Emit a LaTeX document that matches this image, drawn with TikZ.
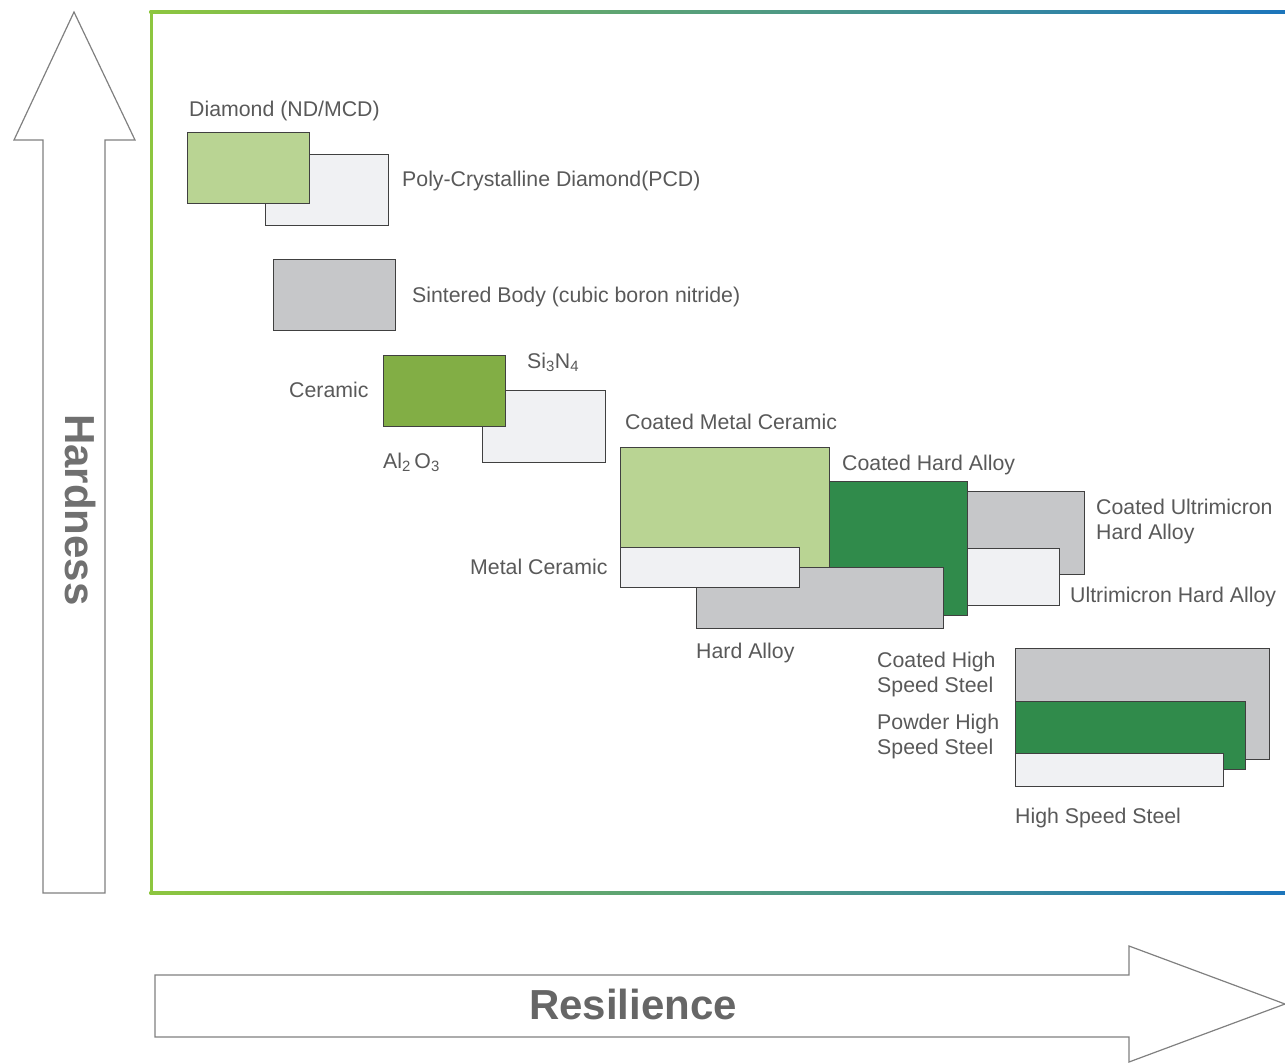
\documentclass[tikz,border=0pt]{standalone}
\usepackage{fontspec}
\setmainfont{Liberation Sans}
\usetikzlibrary{positioning}
\definecolor{labelgray}{HTML}{595959}
\definecolor{arrowgray}{HTML}{808080}
\definecolor{boxline}{HTML}{404040}
\definecolor{lightgreen}{HTML}{B9D493}
\definecolor{olivegreen}{HTML}{82AE45}
\definecolor{darkgreen}{HTML}{308B4B}
\definecolor{pale}{HTML}{F0F1F3}
\definecolor{midgray}{HTML}{C6C7C9}
\definecolor{framegreen}{HTML}{8DC63F}
\definecolor{frameblue}{HTML}{1C75BC}
\tikzset{
  mat/.style={draw=boxline, line width=1pt, anchor=north west, inner sep=0pt},
  lbl/.style={text=labelgray, font=\fontsize{21.3}{25}\selectfont, anchor=base west, inner sep=0pt, align=left},
  axis label/.style={text=#1, font=\fontsize{42}{48}\selectfont\bfseries, inner sep=0pt},
}
\begin{document}
\begin{tikzpicture}[x=1pt, y=-1pt, line join=miter]
\useasboundingbox (0,0) rectangle (1285,1063);
% frame
\fill[framegreen] (149.5,10.5) rectangle (152.5,894.5);
\shade[left color=framegreen, right color=frameblue] (149.5,10.5) rectangle (1290,13.5);
\shade[left color=framegreen, right color=frameblue] (149.5,891.5) rectangle (1290,894.5);
% axes arrows
\draw[arrowgray, line width=1.2pt] (74,12) -- (135,140) -- (105,140) -- (105,893) -- (43,893) -- (43,140) -- (14,140) -- cycle;
\node[axis label=black!56, rotate=-90] (hard) at (81,510) {Hardness};
\draw[arrowgray, line width=1.2pt] (155,975) -- (1129,975) -- (1129,946) -- (1285,1004) -- (1129,1062) -- (1129,1037) -- (155,1037) -- cycle;
\node[axis label=black!60] (resil) at (633,1004) {Resilience};
% diamond
\node[mat, fill=pale, minimum width=123, minimum height=71] (pcd) at (265,154) {};
\node[mat, fill=lightgreen, minimum width=122, minimum height=71] (dmd) at (187,132) {};
\node[lbl] (dmdl) at (189,116) {Diamond (ND/MCD)};
\node[lbl] (pcdl) at (402,186) {Poly-Crystalline Diamond(PCD)};
% cbn
\node[mat, fill=midgray, minimum width=122, minimum height=71] (cbn) at (273,259) {};
\node[lbl] (cbnl) at (412,302) {Sintered Body (cubic boron nitride)};
% ceramic
\node[mat, fill=pale, minimum width=123, minimum height=72] (sin) at (482,390) {};
\node[mat, fill=olivegreen, minimum width=122, minimum height=71] (alo) at (383,355) {};
\node[lbl] (cerl) at (289,397) {Ceramic};
\node[lbl] (sinl) at (527,368) {Si\textsubscript{3}N\textsubscript{4}};
\node[lbl] (alol) at (383,468) {Al\textsubscript{2}\,O\textsubscript{3}};
% hard alloys
\node[mat, fill=lightgreen, minimum width=209, minimum height=120] (cmc) at (620,447) {};
\node[mat, fill=darkgreen, minimum width=138, minimum height=134] (cha) at (829,481) {};
\node[mat, fill=midgray, minimum width=117, minimum height=83] (cuh) at (967,491) {};
\node[mat, fill=pale, minimum width=92, minimum height=57] (uha) at (967,548) {};
\node[mat, fill=midgray, minimum width=247, minimum height=61] (hal) at (696,567) {};
\node[mat, fill=pale, minimum width=179, minimum height=40] (mcr) at (620,547) {};
\node[lbl] (cmcl) at (625,429) {Coated Metal Ceramic};
\node[lbl] (chal) at (842,470) {Coated Hard Alloy};
\node[lbl] (cuhl) at (1096,539) {Coated Ultrimicron\\Hard Alloy};
\node[lbl] (uhal) at (1070,602) {Ultrimicron Hard Alloy};
\node[lbl] (mcrl) at (470,574) {Metal Ceramic};
\node[lbl] (hall) at (696,658) {Hard Alloy};
% high speed steel
\node[mat, fill=midgray, minimum width=254, minimum height=111] (chs) at (1015,648) {};
\node[mat, fill=darkgreen, minimum width=230, minimum height=68] (phs) at (1015,701) {};
\node[mat, fill=pale, minimum width=208, minimum height=33] (hss) at (1015,753) {};
\node[lbl] (chsl) at (877,692) {Coated High\\Speed Steel};
\node[lbl] (phsl) at (877,754) {Powder High\\Speed Steel};
\node[lbl] (hssl) at (1015,823) {High Speed Steel};
\end{tikzpicture}
\end{document}
